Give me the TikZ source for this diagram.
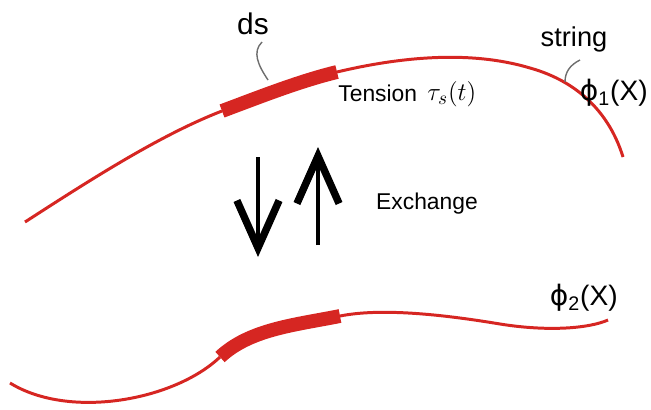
\documentclass[tikz,border=0pt]{standalone}
\usepackage{fontspec}
\setmainfont{Liberation Sans}
\newfontfamily\greekfont{DejaVu Sans}
\usetikzlibrary{arrows.meta}
\definecolor{stringred}{RGB}{214,38,34}
\definecolor{leadgray}{RGB}{110,110,110}
\begin{document}
\begin{tikzpicture}[x=0.02cm,y=-0.02cm,
  stringline/.style={stringred,line width=1.7pt},
  element/.style={stringred,line width=7.9pt,line cap=butt},
  leader/.style={leadgray,line width=0.8pt},
  exch/.style={line width=2.8pt,-{Straight Barb[length=27pt,width=24pt,line width=4.2pt]}},
  lbl/.style={inner sep=0pt,font=\fontsize{13}{15}\selectfont}]
  \useasboundingbox (0,0) rectangle (651,409);
  % upper string
  \draw[stringline] (25,222) .. controls (90,180) and (160,135) .. (222,111);
  \draw[element] (222,111) .. controls (262,96) and (300,81) .. (337,72);
  \draw[stringline] (337,72) .. controls (400,57) and (470,50) .. (530,68)
    .. controls (580,82) and (610,115) .. (623,157);
  % lower string
  \draw[stringline] (10,383) .. controls (70,420) and (175,400) .. (220,357);
  \draw[element] (220,357) .. controls (250,329) and (295,325) .. (340,316);
  \draw[stringline] (340,316) .. controls (380,308) and (440,314) .. (500,324)
    .. controls (550,332) and (590,328) .. (608,320);
  % labels
  \node[lbl,font=\fontsize{17}{19}\selectfont] (ds) at (253,24) {ds};
  \node[lbl,font=\fontsize{15.5}{17}\selectfont] (string) at (574,39) {string};
  \node[lbl,anchor=west] (tension) at (338,93) {Tension};
  \node[lbl,anchor=west,font=\fontsize{15}{17}\selectfont] (tau) at (427,94) {$\tau_s(t)$};
  \node[lbl] (exchange) at (427,204) {Exchange};
  \node[lbl,anchor=east,font=\fontsize{16}{18}\selectfont] (phione) at (648,93) {{\greekfont ϕ}\textsubscript{1}(X)};
  \node[lbl,anchor=east,font=\fontsize{16}{18}\selectfont] (phitwo) at (618,298) {{\greekfont ϕ}\textsubscript{2}(X)};
  \coordinate (dstop) at (262,42);
  \coordinate (dsmark) at (268,80);
  \coordinate (strtop) at (580,60);
  \coordinate (strmark) at (565,82);
  \draw[leader] (dstop) .. controls (252,52) and (258,65) .. (dsmark);
  \draw[leader] (strtop) .. controls (570,65) and (565,72) .. (strmark);
  % exchange arrows
  \coordinate (dntop) at (258,157);
  \coordinate (dnend) at (258,257);
  \coordinate (upbot) at (318,245);
  \coordinate (upend) at (318,147);
  \draw[exch] (dntop) -- (dnend);
  \draw[exch] (upbot) -- (upend);
\end{tikzpicture}
\end{document}
